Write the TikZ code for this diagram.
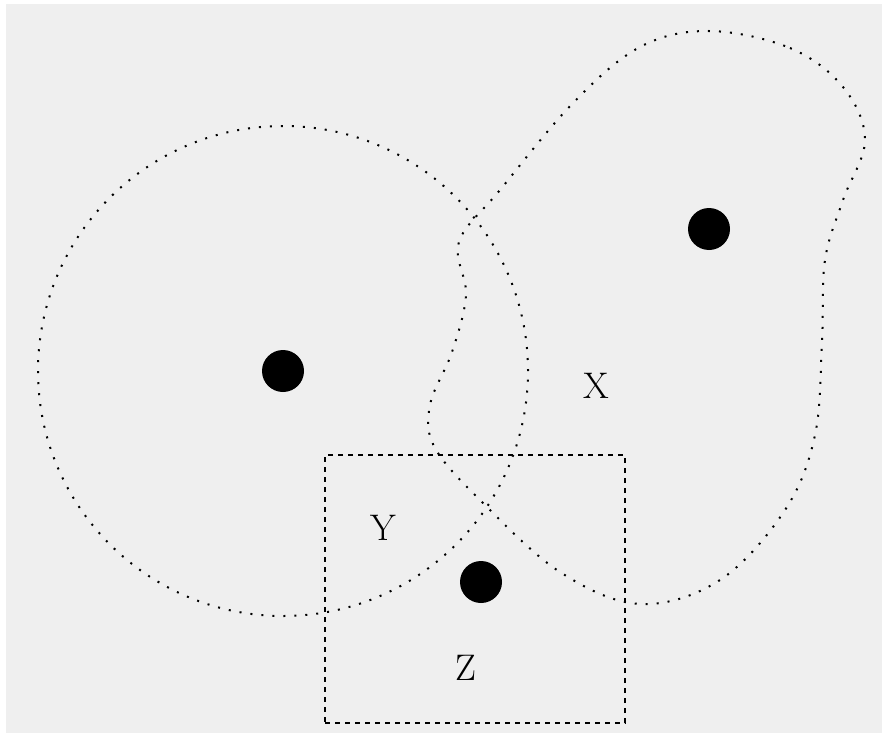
\documentclass[tikz,border=0pt]{standalone}
\usepackage{tikz}
\usetikzlibrary{positioning}

\definecolor{bggray}{RGB}{239,239,239}

\begin{document}
\begin{tikzpicture}[
  x=1pt, y=-1pt,
  region/.style={draw=black, line width=2pt, dash pattern=on 2pt off 9pt},
  framebox/.style={draw=black, line width=1.5pt, dash pattern=on 5pt off 5pt, minimum width=300pt, minimum height=268pt, inner sep=0pt},
  spot/.style={circle, fill=black, minimum size=42pt, inner sep=0pt},
  lab/.style={font=\fontsize{37}{40}\selectfont, inner sep=0pt}
]
  \useasboundingbox (0,0) rectangle (882,733);
  \fill[bggray] (6,4) rectangle (882,733);

  % the round region
  \draw[region] (283,371) circle[radius=245pt];

  % the blob region
  \draw[region] plot[smooth cycle, tension=0.6] coordinates {
    (709,31) (790,48) (843,87) (865,140) (843,200) (825,260) (822,340)
    (815,435) (785,510) (720,580) (640,604) (560,572) (483,503) (435,448)
    (430,405) (452,352) (466,295) (459,242) (500,190) (573,103) (640,47)};

  % the square region
  \node[framebox] (sq) at (475,589) {};

  % points
  \node[spot] (p1) at (283,371) {};
  \node[spot] (p2) at (709,229) {};
  \node[spot] (p3) at (481,582) {};

  % labels
  \node[lab] (lx) at (596,386) {X};
  \node[lab] (ly) at (383,528) {Y};
  \node[lab] (lz) at (466,668) {Z};
\end{tikzpicture}
\end{document}
